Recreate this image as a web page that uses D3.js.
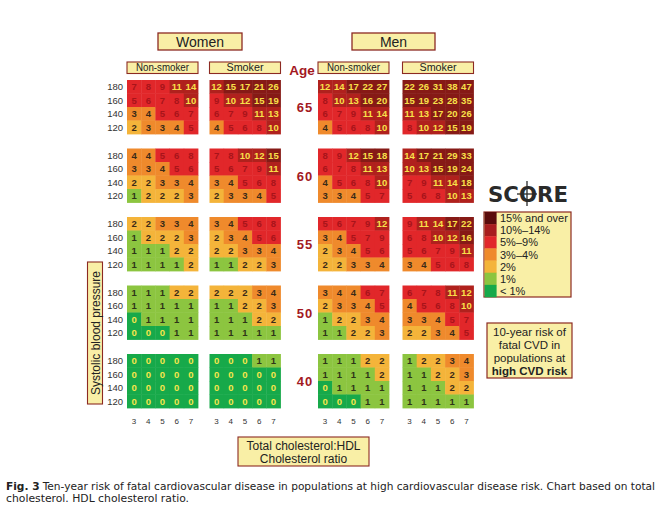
<!DOCTYPE html>
<html><head><meta charset="utf-8">
<script src="https://cdn.jsdelivr.net/npm/d3@7"></script>
<style>body{margin:0;background:#fff}svg{display:block}</style>
</head><body>
<script>
const ages = [65, 60, 55, 50, 40];
const sbpLevels = [180, 160, 140, 120];
const cholRatios = [3, 4, 5, 6, 7];

// Each entry: one age band (65,60,55,50,40); rows = SBP 180,160,140,120; cols = chol ratio 3..7
const womenNonSmoker = [
  [[7,8,9,11,14],[5,6,7,8,10],[3,4,5,6,7],[2,3,3,4,5]],
  [[4,4,5,6,8],[3,3,4,5,6],[2,2,3,3,4],[1,2,2,2,3]],
  [[2,2,3,3,4],[1,2,2,2,3],[1,1,1,2,2],[1,1,1,1,2]],
  [[1,1,1,2,2],[1,1,1,1,1],[0,1,1,1,1],[0,0,0,1,1]],
  [[0,0,0,0,0],[0,0,0,0,0],[0,0,0,0,0],[0,0,0,0,0]]
];
const womenSmoker = [
  [[12,15,17,21,26],[9,10,12,15,19],[6,7,9,11,13],[4,5,6,8,10]],
  [[7,8,10,12,15],[5,6,7,9,11],[3,4,5,6,8],[2,3,3,4,5]],
  [[3,4,5,6,8],[2,3,4,5,6],[2,2,3,3,4],[1,1,2,2,3]],
  [[2,2,2,3,4],[1,1,2,2,3],[1,1,1,2,2],[1,1,1,1,1]],
  [[0,0,0,1,1],[0,0,0,0,0],[0,0,0,0,0],[0,0,0,0,0]]
];
const menNonSmoker = [
  [[12,14,17,22,27],[8,10,13,16,20],[6,7,9,11,14],[4,5,6,8,10]],
  [[8,9,12,15,18],[6,7,8,11,13],[4,5,6,8,10],[3,3,4,5,7]],
  [[5,6,7,9,12],[3,4,5,7,9],[2,3,4,5,6],[2,2,3,3,4]],
  [[3,4,4,6,7],[2,3,3,4,5],[1,2,2,3,4],[1,1,2,2,3]],
  [[1,1,1,2,2],[1,1,1,1,2],[0,1,1,1,1],[0,0,0,1,1]]
];
const menSmoker = [
  [[22,26,31,38,47],[15,19,23,28,35],[11,13,17,20,26],[8,10,12,15,19]],
  [[14,17,21,29,33],[10,13,15,19,24],[7,9,11,14,18],[5,6,8,10,13]],
  [[9,11,14,17,22],[6,8,10,12,16],[5,6,7,9,11],[3,4,5,6,8]],
  [[6,7,8,11,12],[4,5,6,8,10],[3,3,4,5,7],[2,2,3,4,5]],
  [[1,2,2,3,4],[1,1,2,2,3],[1,1,1,2,2],[1,1,1,1,1]]
];

const sexLabels = ["Women", "Men"];
const smokingLabels = ["Non-smoker", "Smoker"];
const legendLabels = ["15% and over", "10%\u201314%", "5%\u20139%", "3%\u20134%", "2%", "1%", "< 1%"];
const riskThresholds = [1, 2, 3, 5, 10, 15];
const riskColors = ["#17a94a", "#8cc540", "#f4b43a", "#ef8a2c", "#e1272a", "#b0211d", "#861a16"];
const textColors = ["#f6e64a", "#2e3418", "#3a2a18", "#3a2a18", "#a8141a", "#f8e04a", "#f8e04a"];

const W = 662, H = 523;
const svg = d3.select("body").append("svg").attr("width", W).attr("height", H);

const colorScale = d3.scaleThreshold().domain(riskThresholds).range(riskColors);
const textScale = d3.scaleThreshold().domain(riskThresholds).range(textColors);

const BORDER = "#8c2a22", BOXFILL = "#f9efa6";
const FONT = "'Liberation Sans', Arial, sans-serif";

const panels = [
  {sex: 0, smoke: 0, data: womenNonSmoker, x0: 127},
  {sex: 0, smoke: 1, data: womenSmoker, x0: 209.5},
  {sex: 1, smoke: 0, data: menNonSmoker, x0: 318},
  {sex: 1, smoke: 1, data: menSmoker, x0: 402.5}
];
const gridW = 71, gridH = 54;
const ageTop = d3.scaleLinear().domain([0, 4]).range([80, 354]);

// sex header boxes
const sexBoxes = [{x: 158, w: 84}, {x: 352, w: 83}];
sexBoxes.forEach((b, i) => {
  svg.append("rect").attr("x", b.x).attr("y", 33).attr("width", b.w).attr("height", 17)
    .attr("fill", BOXFILL).attr("stroke", BORDER).attr("stroke-width", 1.3);
  svg.append("text").attr("x", b.x + b.w / 2).attr("y", 47).attr("text-anchor", "middle")
    .attr("font-family", FONT).attr("font-size", 14).attr("fill", "#222").text(sexLabels[i]);
});

panels.forEach(p => {
  // smoker header
  svg.append("rect").attr("x", p.x0).attr("y", 62).attr("width", gridW).attr("height", 11.5)
    .attr("fill", BOXFILL).attr("stroke", BORDER).attr("stroke-width", 1.1);
  svg.append("text").attr("x", p.x0 + gridW / 2).attr("y", 71.3).attr("text-anchor", "middle")
    .attr("font-family", FONT).attr("font-size", 10).attr("fill", "#222")
    .attr("textLength", p.smoke === 0 ? 53 : 37).attr("lengthAdjust", "spacingAndGlyphs")
    .text(smokingLabels[p.smoke]);

  const x = d3.scaleBand().domain(cholRatios).range([p.x0, p.x0 + gridW]);
  ages.forEach((age, ai) => {
    const top = ageTop(ai);
    const y = d3.scaleBand().domain(sbpLevels).range([top, top + gridH]);
    const cells = [];
    sbpLevels.forEach((s, ri) => cholRatios.forEach((c, ci) =>
      cells.push({s, c, v: p.data[ai][ri][ci]})));
    const g = svg.append("g");
    g.selectAll("rect").data(cells).join("rect")
      .attr("x", d => x(d.c)).attr("y", d => y(d.s))
      .attr("width", x.bandwidth() + 0.4).attr("height", y.bandwidth() + 0.4)
      .attr("fill", d => colorScale(d.v));
    g.selectAll("text").data(cells).join("text")
      .attr("x", d => x(d.c) + x.bandwidth() / 2).attr("y", d => y(d.s) + y.bandwidth() / 2 + 3.3)
      .attr("text-anchor", "middle")
      .attr("font-family", "'Liberation Sans Narrow', 'Liberation Sans', Arial, sans-serif")
      .attr("font-weight", "bold").attr("font-size", 9.5)
      .attr("fill", d => textScale(d.v)).text(d => d.v);

    if (p.sex === 0 && p.smoke === 0) {
      svg.append("g").selectAll("text").data(sbpLevels).join("text")
        .attr("x", 123).attr("y", d => y(d) + y.bandwidth() / 2 + 3.5)
        .attr("text-anchor", "end").attr("font-family", FONT).attr("font-size", 9.5)
        .attr("fill", "#333").text(d => d);
    }
  });
  // chol ticks
  svg.append("g").selectAll("text").data(cholRatios).join("text")
    .attr("x", d => x(d) + x.bandwidth() / 2).attr("y", 424)
    .attr("text-anchor", "middle").attr("font-family", FONT).attr("font-size", 8)
    .attr("fill", "#333").text(d => d);
});

// Age labels
svg.append("text").attr("x", 302).attr("y", 75).attr("text-anchor", "middle")
  .attr("font-family", FONT).attr("font-weight", "bold").attr("font-size", 13.5)
  .attr("fill", "#a3191f").text("Age");
svg.append("g").selectAll("text").data(ages).join("text")
  .attr("x", 305).attr("y", (d, i) => ageTop(i) + gridH / 2 + 5)
  .attr("text-anchor", "middle").attr("font-family", FONT).attr("font-weight", "bold")
  .attr("font-size", 13).attr("letter-spacing", 1).attr("fill", "#a3191f").text(d => d);

// Y axis label box
svg.append("rect").attr("x", 87.5).attr("y", 262).attr("width", 15).attr("height", 142)
  .attr("fill", BOXFILL).attr("stroke", BORDER).attr("stroke-width", 1.1);
svg.append("text").attr("transform", "translate(99.5,333) rotate(-90)").attr("text-anchor", "middle")
  .attr("font-family", FONT).attr("font-size", 12).attr("fill", "#222").text("Systolic blood pressure");

// X axis label box
svg.append("rect").attr("x", 238).attr("y", 437).attr("width", 131).attr("height", 29)
  .attr("fill", BOXFILL).attr("stroke", BORDER).attr("stroke-width", 1.1);
svg.append("text").attr("x", 303.5).attr("y", 450).attr("text-anchor", "middle")
  .attr("font-family", FONT).attr("font-size", 12).attr("fill", "#222").text("Total cholesterol:HDL");
svg.append("text").attr("x", 303.5).attr("y", 463).attr("text-anchor", "middle")
  .attr("font-family", FONT).attr("font-size", 12).attr("fill", "#222").text("Cholesterol ratio");

// SCORE logo
svg.append("text").attr("x", 488).attr("y", 202).attr("textLength", 80).attr("lengthAdjust", "spacingAndGlyphs")
  .attr("font-family", "'DejaVu Sans', sans-serif").attr("font-weight", "bold").attr("font-size", 21)
  .attr("fill", "#2a2a2a").text("SCORE");
svg.append("line").attr("x1", 527).attr("x2", 527).attr("y1", 181).attr("y2", 206)
  .attr("stroke", "#2a2a2a").attr("stroke-width", 1.3);
svg.append("line").attr("x1", 517).attr("x2", 537).attr("y1", 194).attr("y2", 194)
  .attr("stroke", "#2a2a2a").attr("stroke-width", 1.3);

// Legend
const lg = svg.append("g");
const lx = 484, ly = 212, lw = 87, rowH = 85 / 7;
lg.append("rect").attr("x", lx).attr("y", ly).attr("width", lw).attr("height", 85)
  .attr("fill", BOXFILL).attr("stroke", BORDER).attr("stroke-width", 1.2);
const legendColors = ["#5a0c0c", "#a81e1e", "#e1272a", "#ef8a2c", "#f4b43a", "#8cc540", "#17a94a"];
lg.selectAll("rect.sw").data(legendLabels).join("rect").attr("class", "sw")
  .attr("x", lx + 0.6).attr("y", (d, i) => ly + i * rowH).attr("width", 12).attr("height", rowH + 0.3)
  .attr("fill", (d, i) => legendColors[i]);
lg.selectAll("text").data(legendLabels).join("text")
  .attr("x", lx + 16).attr("y", (d, i) => ly + i * rowH + rowH / 2 + 4)
  .attr("font-family", FONT).attr("font-size", 11).attr("fill", "#222").text(d => d);

// Risk note box
svg.append("rect").attr("x", 487).attr("y", 323).attr("width", 85).attr("height", 55)
  .attr("fill", BOXFILL).attr("stroke", BORDER).attr("stroke-width", 1.2);
const note = ["10-year risk of", "fatal CVD in", "populations at", "high CVD risk"];
svg.append("g").selectAll("text").data(note).join("text")
  .attr("x", 529.5).attr("y", (d, i) => 335.5 + i * 13).attr("text-anchor", "middle")
  .attr("font-family", FONT).attr("font-size", 11.5).attr("font-weight", (d, i) => i === 3 ? "bold" : "normal")
  .attr("fill", "#222").text(d => d);

// Caption
const CAP = "'DejaVu Sans Condensed', 'Liberation Sans Narrow', sans-serif";
const cap1 = svg.append("text").attr("x", 6).attr("y", 490).attr("textLength", 649).attr("lengthAdjust", "spacingAndGlyphs")
  .attr("font-family", CAP).attr("font-size", 10).attr("fill", "#222");
cap1.append("tspan").attr("font-weight", "bold").text("Fig. 3");
cap1.append("tspan").text("  Ten-year risk of fatal cardiovascular disease in populations at high cardiovascular disease risk. Chart based on total");
svg.append("text").attr("x", 6).attr("y", 501.5).attr("textLength", 183).attr("lengthAdjust", "spacingAndGlyphs")
  .attr("font-family", CAP).attr("font-size", 10).attr("fill", "#222")
  .text("cholesterol. HDL cholesterol ratio.");
</script>
</body></html>
